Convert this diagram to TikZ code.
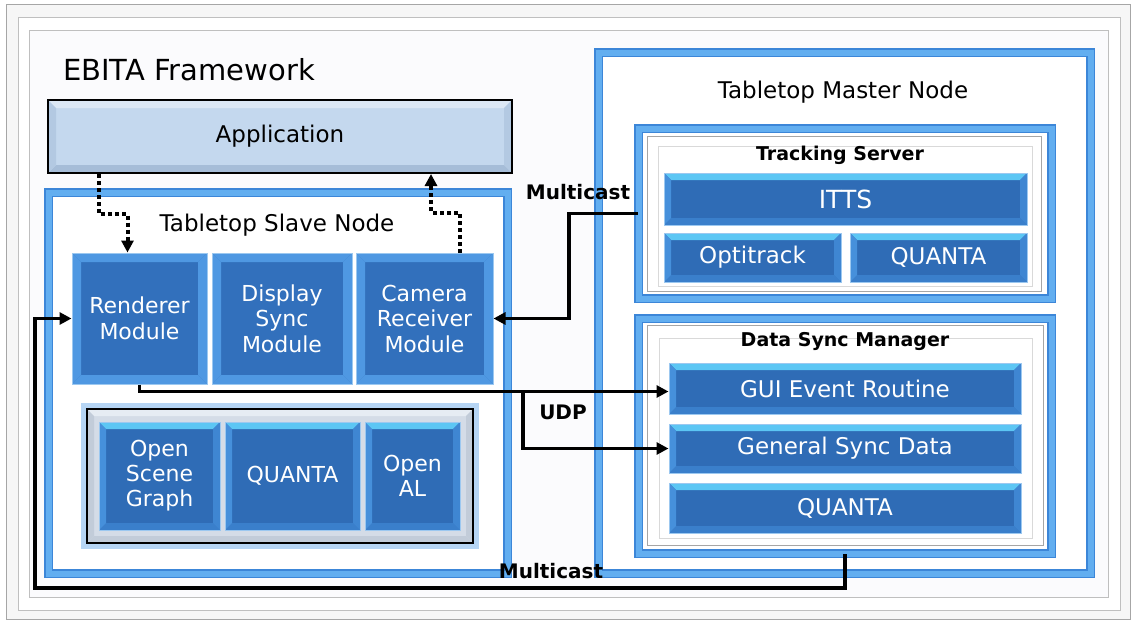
\documentclass[tikz,border=0pt]{standalone}
\usepackage{fontspec}
\setmainfont{DejaVu Sans}
\usetikzlibrary{arrows.meta,calc}
\definecolor{mblue}{HTML}{2F6CB6}
\definecolor{mtop}{HTML}{5CC6F4}
\definecolor{mside}{HTML}{4690DB}
\definecolor{mside2}{HTML}{3F86D2}
\definecolor{mbot}{HTML}{3A7FCB}
\definecolor{mline}{HTML}{9CC8F0}
\definecolor{sblue}{HTML}{3270BC}
\definecolor{sframe}{HTML}{4F98E2}
\definecolor{cb1}{HTML}{3C86D8}
\definecolor{cb2}{HTML}{62AEF0}
\definecolor{appfill}{HTML}{C4D8EE}
\definecolor{apptop}{HTML}{DCE8F5}
\definecolor{appside}{HTML}{B3C9E2}
\definecolor{appbot}{HTML}{A6BDD8}
\definecolor{libfill}{HTML}{D4DCE7}
\definecolor{libtop}{HTML}{E6ECF3}
\definecolor{libside}{HTML}{C2CCD9}
\definecolor{glow}{HTML}{B6D5F4}
\definecolor{inner}{HTML}{FBFBFD}
\tikzset{
  bev/.style n args={5}{path picture={
    \path (path picture bounding box.north west) coordinate (pNW)
          (path picture bounding box.north east) coordinate (pNE)
          (path picture bounding box.south west) coordinate (pSW)
          (path picture bounding box.south east) coordinate (pSE);
    \fill[#1] (pNW) -- (pNE) -- ([shift={(-#5,-#5)}]pNE) -- ([shift={(#5,-#5)}]pNW) -- cycle;
    \fill[#2] (pSW) -- (pSE) -- ([shift={(-#5,#5)}]pSE) -- ([shift={(#5,#5)}]pSW) -- cycle;
    \fill[#3] (pNW) -- (pSW) -- ([shift={(#5,#5)}]pSW) -- ([shift={(#5,-#5)}]pNW) -- cycle;
    \fill[#4] (pNE) -- (pSE) -- ([shift={(-#5,#5)}]pSE) -- ([shift={(-#5,-#5)}]pNE) -- cycle;
  }},
  mod/.style={draw=mline, line width=1pt, fill=mblue, text=white, inner sep=0pt,
    bev={mtop}{mbot}{mside}{mside2}{7pt}, align=center,
    font=\fontsize{23}{25}\selectfont},
  libmod/.style={mod, font=\fontsize{22}{25}\selectfont},
  smod/.style={draw=mline, line width=1pt, fill=sblue, text=white, inner sep=0pt,
    bev={sframe}{sframe}{sframe}{sframe}{9pt}, align=center,
    font=\fontsize{22}{25.5}\selectfont},
  cont/.style={draw=cb1, line width=1.5pt, double=cb2, double distance=6pt,
    fill=white, inner sep=0pt},
  ttl/.style={font=\fontsize{23}{27}\selectfont, text=black, inner sep=0pt},
  btl/.style={font=\bfseries\fontsize{19}{23}\selectfont, text=black, inner sep=0pt},
  lbl/.style={font=\bfseries\fontsize{20}{24}\selectfont, text=black, inner sep=0pt},
  arr/.style={line width=3.5pt, -{Triangle[length=12pt,width=12pt]}},
  darr/.style={line width=4pt, dash pattern=on 4pt off 3pt, -{Triangle[length=12pt,width=12pt]}},
}
\begin{document}
\begin{tikzpicture}[x=1pt,y=-1pt]
\useasboundingbox (0,0) rectangle (1133,624);
\fill[white] (0,0) rectangle (1133,624);
% framework frame
\draw[gray!70, fill=gray!7, line width=1pt] (6,4) rectangle (1130,619);
\draw[gray!50, fill=white, line width=1pt] (18,17) rectangle (1120,610);
\draw[gray!50, fill=inner, line width=1pt] (29,30) rectangle (1108,597);
\node[font=\fontsize{29}{33}\selectfont, inner sep=0pt] (title) at (189,70) {EBITA Framework};

% application
\node[draw=black, line width=2pt, fill=appfill, minimum width=464, minimum height=73,
  bev={apptop}{appbot}{appside}{appside}{8pt}, font=\fontsize{23}{27}\selectfont]
  (app) at (280,136.5) {Application};

% slave node
\node[cont, minimum width=459, minimum height=381] (slave) at (278,383) {};
\node[ttl] (tslave) at (277,225) {Tabletop Slave Node};
\node[smod, minimum width=135, minimum height=131] (ren) at (139.5,318.5) {Renderer\\Module};
\node[smod, minimum width=140, minimum height=131] (disp) at (282,318.5) {Display\\Sync\\Module};
\node[smod, minimum width=137, minimum height=131] (cam) at (424.5,318.5) {Camera\\Receiver\\Module};
\draw[glow, line width=6pt] (84,406) rectangle (476,546);
\node[draw=black, line width=1.5pt, fill=libfill, minimum width=386, minimum height=134,
  bev={libtop}{libside}{libside}{libside}{7pt}] (lib) at (280,476) {};
\node[libmod, minimum width=121, minimum height=108] (osg) at (159.5,476) {Open\\Scene\\Graph};
\node[libmod, minimum width=135, minimum height=108] (q3) at (292.5,476) {QUANTA};
\node[libmod, minimum width=95, minimum height=108] (oal) at (412.5,476) {Open\\AL};

% master node
\node[cont, minimum width=492, minimum height=521] (master) at (844.5,313) {};
\node[ttl] (tmaster) at (843,92) {Tabletop Master Node};
\node[cont, minimum width=413, minimum height=170] (ts) at (845,213.5) {};
\draw[gray!70, line width=1pt] (647,136) rectangle (1041,291);
\draw[gray!30, line width=1pt] (658,146) rectangle (1032,286);
\node[btl] (tts) at (840,155) {Tracking Server};
\node[mod, minimum width=363, minimum height=52, font=\fontsize{25}{29}\selectfont] (itts) at (845.5,199) {ITTS};
\node[mod, minimum width=177, minimum height=49] (opt) at (752.5,257.5) {Optitrack};
\node[mod, minimum width=177, minimum height=49] (q1) at (938.5,257.5) {QUANTA};

\node[cont, minimum width=413, minimum height=235] (dsm) at (845,436) {};
\draw[gray!70, line width=1pt] (647,325) rectangle (1043,545);
\draw[gray!30, line width=1pt] (659,338) rectangle (1032,538);
\node[btl] (tdsm) at (845,341) {Data Sync Manager};
\node[mod, minimum width=352, minimum height=51] (gui) at (845,388.5) {GUI Event Routine};
\node[mod, minimum width=352, minimum height=49] (gsd) at (845,448.5) {General Sync Data};
\node[mod, minimum width=352, minimum height=50] (q2) at (845,508) {QUANTA};

% connectors
\draw[darr] ([xshift=52pt]app.south west) -- ++(0,40) -| ([xshift=56pt]ren.north west);
\draw[darr] ([xshift=-34pt]cam.north east) -- ++(0,-40) -| ([xshift=384pt]app.south west);
\draw[arr] (ts.west) -- ++(-69,0) |- (cam.east);
\draw[arr] (ren.south) |- ([yshift=-3pt]gui.west);
\coordinate (udpsplit) at (523,392);
\draw[arr] (udpsplit) |- (gsd.west);
\coordinate (mcl) at (35,588);
\draw[arr] (dsm.south) |- (mcl) |- (ren.west);

% labels
\node[lbl] (lmc1) at (578,192) {Multicast};
\node[lbl] (ludp) at (563,412) {UDP};
\node[lbl] (lmc2) at (551,571) {Multicast};
\end{tikzpicture}
\end{document}
